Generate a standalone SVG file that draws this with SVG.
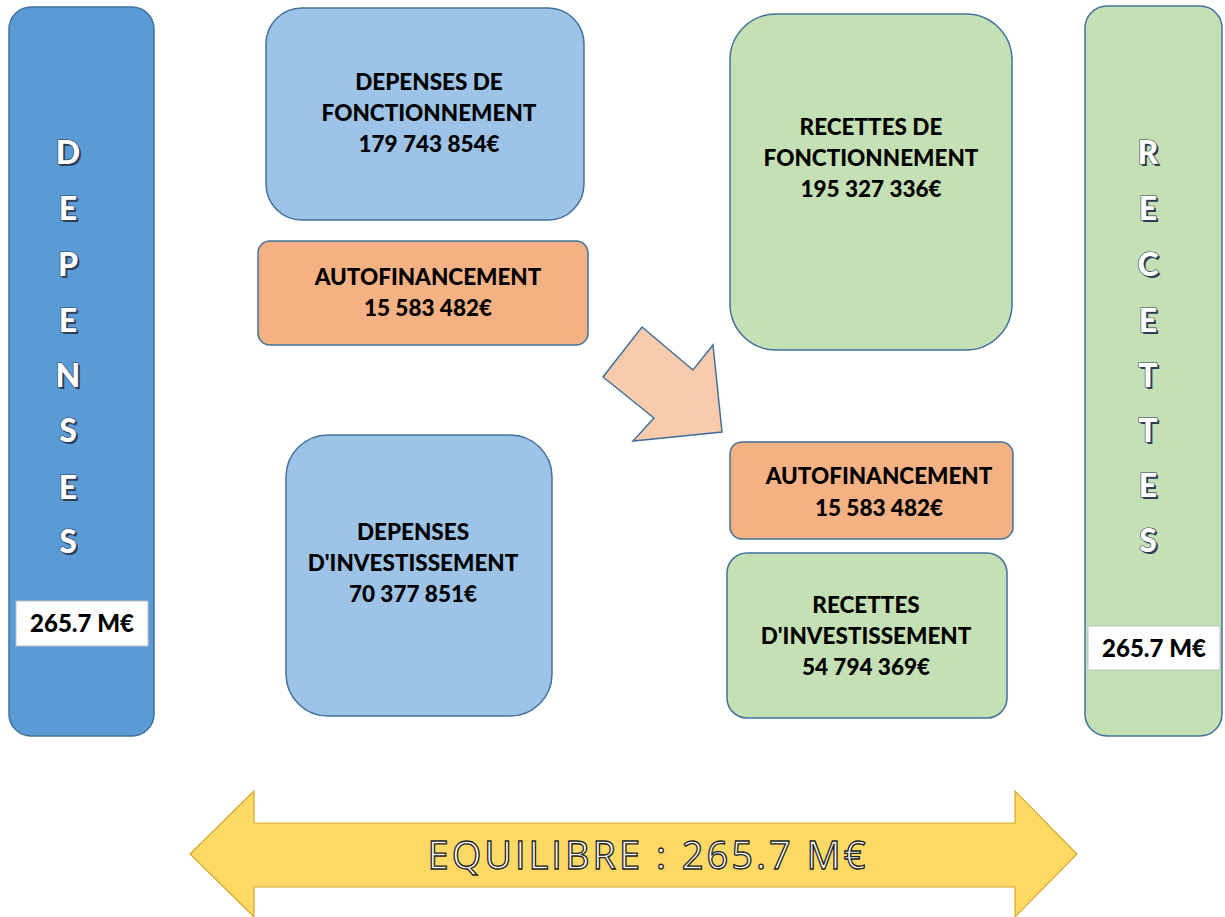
<svg xmlns="http://www.w3.org/2000/svg" width="1225" height="917" viewBox="0 0 1225 917">
<style>
.blue{fill:#5b9bd5;stroke:#41719c;stroke-width:1.5}
.lblue{fill:#9dc3e6;stroke:#41719c;stroke-width:1.5}
.orange{fill:#f4b183;stroke:#41719c;stroke-width:1.5}
.green{fill:#c5e0b4;stroke:#41719c;stroke-width:1.5}
.t{font-family:Lato,"Liberation Sans",sans-serif;font-weight:900;font-size:22.5px;fill:#000;text-anchor:middle}
.v{font-family:Lato,"Liberation Sans",sans-serif;font-weight:900;font-size:24px;fill:#000;text-anchor:middle}
.col{font-family:Lato,"Liberation Sans",sans-serif;font-weight:900;font-size:32px;fill:#fff;stroke:#2f3e55;stroke-width:1.2;text-anchor:middle;paint-order:stroke}
.sh{font-family:Lato,"Liberation Sans",sans-serif;font-weight:900;font-size:32px;fill:#2f3e55;text-anchor:middle}
.eq{font-family:"Open Sans","Liberation Sans",sans-serif;font-size:38px;fill:#fff;stroke:#222;stroke-width:1.3;text-anchor:middle;letter-spacing:3px}
.vbox{fill:#fff;stroke:#bfbfbf;stroke-width:1}
</style>
<rect width="1225" height="917" fill="#fff"/>
<g id="depenses-col">
<rect class="blue" x="9" y="7" width="145" height="729" rx="22"/>
<g>
<text class="sh" x="70" y="166">D</text><text class="col" x="68" y="164">D</text>
<text class="sh" x="70" y="222">E</text><text class="col" x="68" y="220">E</text>
<text class="sh" x="70" y="278">P</text><text class="col" x="68" y="276">P</text>
<text class="sh" x="70" y="334">E</text><text class="col" x="68" y="332">E</text>
<text class="sh" x="70" y="389">N</text><text class="col" x="68" y="387">N</text>
<text class="sh" x="70" y="444">S</text><text class="col" x="68" y="442">S</text>
<text class="sh" x="70" y="501">E</text><text class="col" x="68" y="499">E</text>
<text class="sh" x="70" y="555">S</text><text class="col" x="68" y="553">S</text>
</g>
<rect class="vbox" x="16" y="601" width="132" height="45"/>
<text class="v" x="82" y="632">265.7 M€</text>
</g>
<g id="recettes-col">
<rect class="green" x="1085" y="6" width="137" height="730" rx="22"/>
<g>
<text class="sh" x="1150" y="166">R</text><text class="col" x="1148" y="164">R</text>
<text class="sh" x="1150" y="222">E</text><text class="col" x="1148" y="220">E</text>
<text class="sh" x="1150" y="278">C</text><text class="col" x="1148" y="276">C</text>
<text class="sh" x="1150" y="334">E</text><text class="col" x="1148" y="332">E</text>
<text class="sh" x="1150" y="389">T</text><text class="col" x="1148" y="387">T</text>
<text class="sh" x="1150" y="444">T</text><text class="col" x="1148" y="442">T</text>
<text class="sh" x="1150" y="499">E</text><text class="col" x="1148" y="497">E</text>
<text class="sh" x="1150" y="554">S</text><text class="col" x="1148" y="552">S</text>
</g>
<rect class="vbox" x="1088" y="626" width="132" height="44"/>
<text class="v" x="1154" y="657">265.7 M€</text>
</g>
<g id="dep-fonct">
<rect class="lblue" x="266" y="8" width="318" height="212" rx="36"/>
<text class="t" x="429" y="90">DEPENSES DE</text>
<text class="t" x="429" y="121">FONCTIONNEMENT</text>
<text class="t" x="429" y="152">179 743 854€</text>
</g>
<g id="autofin-left">
<rect class="orange" x="258" y="241" width="330" height="104" rx="12"/>
<text class="t" x="428" y="285">AUTOFINANCEMENT</text>
<text class="t" x="428" y="316">15 583 482€</text>
</g>
<g id="dep-invest">
<rect class="lblue" x="286" y="435" width="266" height="281" rx="42"/>
<text class="t" x="413" y="540">DEPENSES</text>
<text class="t" x="413" y="571">D'INVESTISSEMENT</text>
<text class="t" x="413" y="602">70 377 851€</text>
</g>
<g id="rec-fonct">
<rect class="green" x="730" y="14" width="282" height="336" rx="46"/>
<text class="t" x="871" y="135">RECETTES DE</text>
<text class="t" x="871" y="166">FONCTIONNEMENT</text>
<text class="t" x="871" y="197">195 327 336€</text>
</g>
<g id="autofin-right">
<rect class="orange" x="730" y="442" width="283" height="97" rx="12"/>
<text class="t" x="879" y="484">AUTOFINANCEMENT</text>
<text class="t" x="879" y="516">15 583 482€</text>
</g>
<g id="rec-invest">
<rect class="green" x="727" y="553" width="280" height="165" rx="20"/>
<text class="t" x="866" y="613">RECETTES</text>
<text class="t" x="866" y="644">D'INVESTISSEMENT</text>
<text class="t" x="866" y="675">54 794 369€</text>
</g>
<g id="connectors">
<polygon points="642,327 693,370 713,345 722,432 633,441 654,418 603,377" fill="#f8cbad" stroke="#41719c" stroke-width="1.5" stroke-linejoin="miter"/>
</g>
<g id="equilibre">
<polygon points="190,854 254,791 254,823 1015,823 1015,791 1077,854 1015,917 1015,887 254,887 254,917" fill="#fed966" stroke="#d4a82a" stroke-width="1.2"/>
<text class="eq" x="648" y="869">EQUILIBRE : 265.7 M€</text>
</g>
</svg>
